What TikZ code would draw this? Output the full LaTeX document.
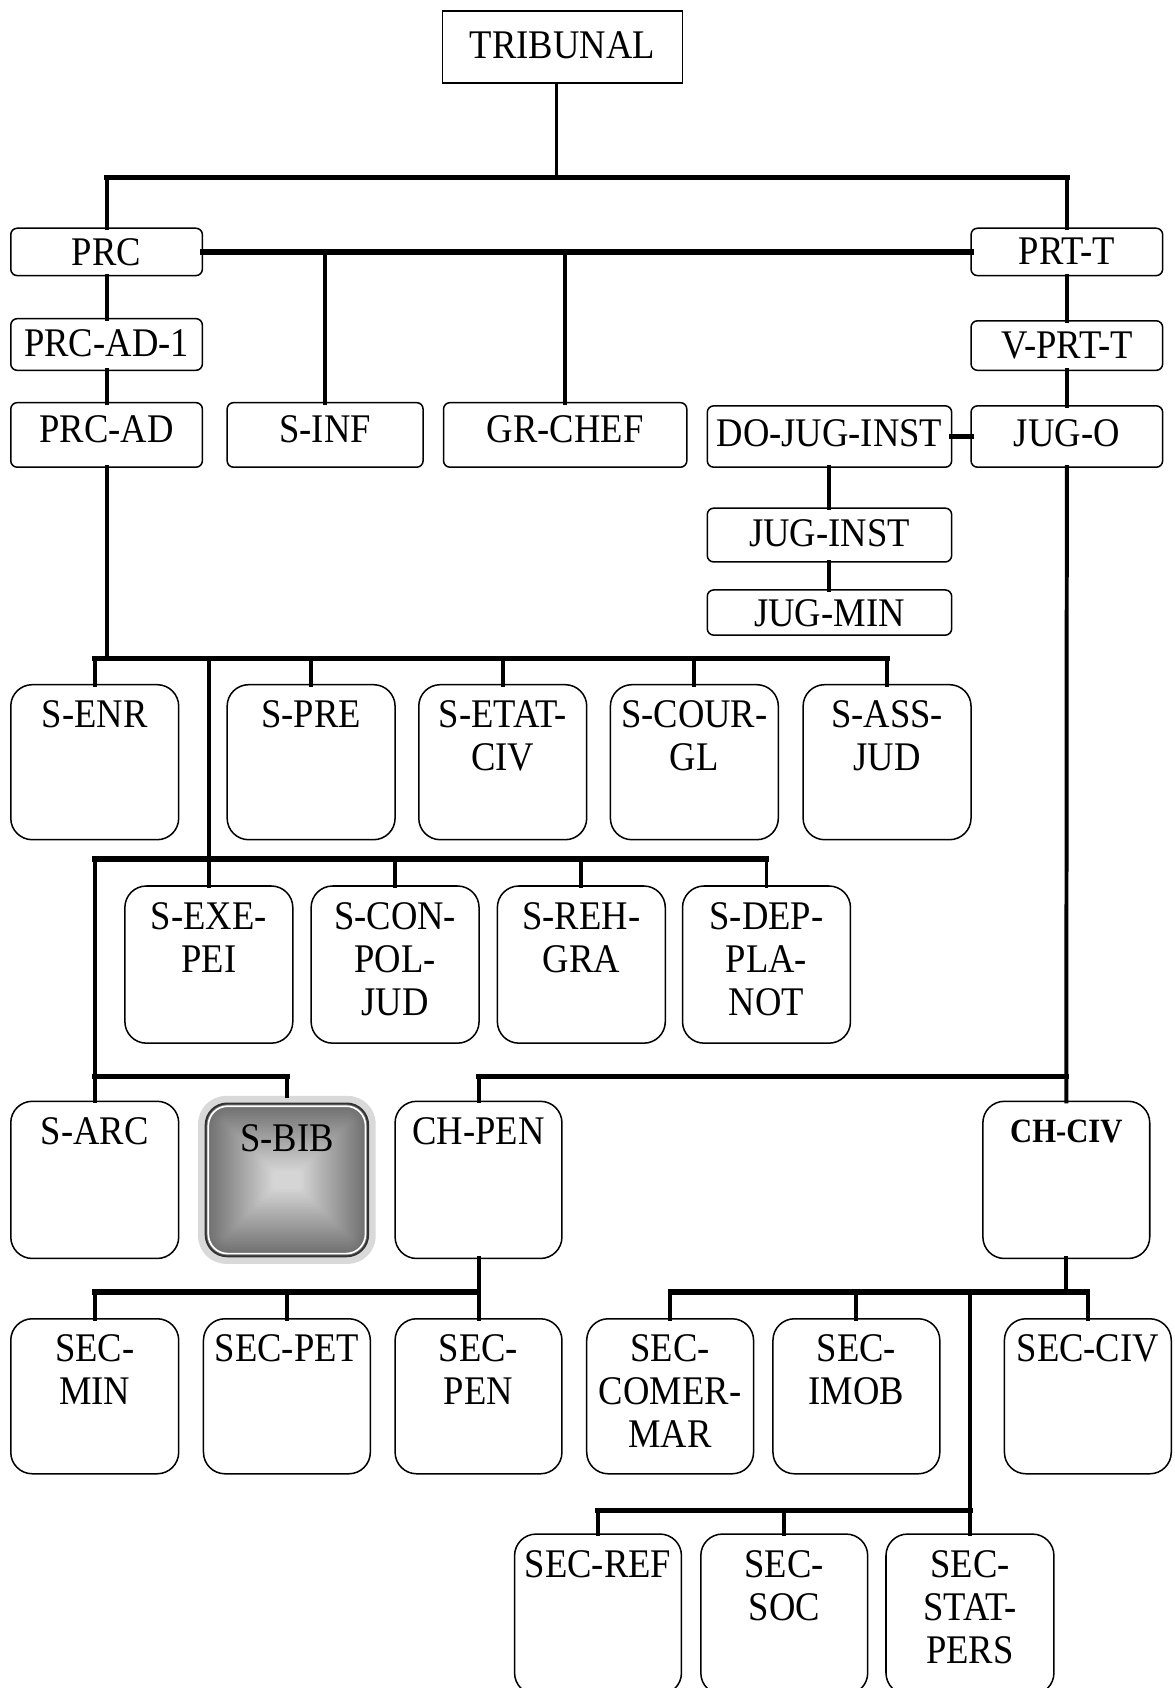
\documentclass[tikz,border=0pt]{standalone}
\usepackage{fontspec}
\setmainfont[FakeStretch=0.9]{Liberation Serif}
\tikzset{
  box/.style={draw, line width=0.8pt, rounded corners=0.12cm, inner sep=0pt, outer sep=0pt},
  tall/.style={box, rounded corners=0.4cm},
  sq/.style={draw, line width=0.9pt, inner sep=0pt, outer sep=0pt},
  bib/.style={tall, draw=black!80, line width=1pt},
  txt/.style={inner sep=0pt, align=center, font=\fontsize{21.5}{22.8}\selectfont},
  hl/.style={line width=2.8pt, line cap=rect},
  vl/.style={line width=2.1pt, line cap=rect},
  thinl/.style={line width=1.4pt},
}
\newcommand{\mkbox}[8]{\node[#1, minimum width={(#5-#3)*0.02cm}, minimum height={(#6-#4)*0.02cm}, label={[txt, anchor=north, yshift={-(#7)*0.02cm}]north:{#8}}] (#2) at ({(#3+#5)/2},{(#4+#6)/2}) {};}
\begin{document}
\begin{tikzpicture}[x=0.02cm, y=-0.02cm]
\useasboundingbox (0,0) rectangle (1091,1568);
\clip (0,0) rectangle (1091,1568);
% S-BIB glow and rectangular gradient
\fill[black!15, rounded corners=0.52cm] (184,1018) rectangle (349,1174);
\foreach \i in {0,...,27}{
  \pgfmathsetmacro{\d}{\i*2.3}
  \pgfmathsetmacro{\c}{57-\i*1.5}
  \pgfmathsetmacro{\r}{max(0.4-\d*0.02,0.06)}
  \fill[black!\c, rounded corners=\r cm] ({191+\d},{1025+\d}) rectangle ({342-\d},{1167-\d});
}
\draw[white, line width=0.9pt, rounded corners=0.36cm] (193.5,1027.5) rectangle (339.5,1164.5);
% boxes
\mkbox{sq}{TRIB}{411}{10}{634}{77}{19}{TRIBUNAL}
\mkbox{box}{PRC}{10}{212}{188}{256}{9}{PRC}
\mkbox{box}{PRTT}{902}{212}{1080}{256}{9}{PRT-T}
\mkbox{box}{PRCADI}{10}{296}{188}{344}{10}{PRC-AD-1}
\mkbox{box}{VPRTT}{902}{298}{1080}{344}{10}{V-PRT-T}
\mkbox{box}{PRCAD}{10}{374}{188}{434}{12}{PRC-AD}
\mkbox{box}{SINF}{211}{374}{393}{434}{12}{S-INF}
\mkbox{box}{GRCHEF}{412}{374}{638}{434}{12}{GR-CHEF}
\mkbox{box}{DOJUG}{657}{377}{884}{434}{12}{DO-JUG-INST}
\mkbox{box}{JUGO}{902}{377}{1080}{434}{12}{JUG-O}
\mkbox{box}{JUGINST}{657}{472}{884}{522}{10}{JUG-INST}
\mkbox{box}{JUGMIN}{657}{548}{884}{590}{9}{JUG-MIN}
% row 1
\mkbox{tall}{SENR}{10}{636}{166}{780}{14}{S-ENR}
\mkbox{tall}{SPRE}{211}{636}{367}{780}{14}{S-PRE}
\mkbox{tall}{SETAT}{389}{636}{545}{780}{14}{S-ETAT-\\CIV}
\mkbox{tall}{SCOUR}{567}{636}{723}{780}{14}{S-COUR-\\GL}
\mkbox{tall}{SASS}{746}{636}{902}{780}{14}{S-ASS-\\JUD}
% row 2
\mkbox{tall}{SEXE}{116}{823}{272}{969}{15}{S-EXE-\\PEI}
\mkbox{tall}{SCON}{289}{823}{445}{969}{15}{S-CON-\\POL-\\JUD}
\mkbox{tall}{SREH}{462}{823}{618}{969}{15}{S-REH-\\GRA}
\mkbox{tall}{SDEP}{634}{823}{790}{969}{15}{S-DEP-\\PLA-\\NOT}
% row 3
\mkbox{tall}{SARC}{10}{1023}{166}{1169}{15}{S-ARC}
\mkbox{bib}{SBIB}{191}{1025}{342}{1167}{19}{S-BIB}
\mkbox{tall}{CHPEN}{367}{1023}{522}{1169}{15}{CH-PEN}
\mkbox{tall}{CHCIV}{913}{1023}{1068}{1169}{17}{\fontsize{18}{20}\selectfont\bfseries CH-CIV}
% row 4
\mkbox{tall}{SECMIN}{10}{1225}{166}{1369}{14}{SEC-\\MIN}
\mkbox{tall}{SECPET}{189}{1225}{344}{1369}{14}{SEC-PET}
\mkbox{tall}{SECPEN}{367}{1225}{522}{1369}{14}{SEC-\\PEN}
\mkbox{tall}{SECCOM}{545}{1225}{700}{1369}{14}{SEC-\\COMER-\\MAR}
\mkbox{tall}{SECIMOB}{718}{1225}{873}{1369}{14}{SEC-\\IMOB}
\mkbox{tall}{SECCIV}{933}{1225}{1088}{1369}{14}{SEC-CIV}
% row 5
\mkbox{tall}{SECREF}{478}{1425}{633}{1574}{15}{SEC-REF}
\mkbox{tall}{SECSOC}{651}{1425}{806}{1574}{15}{SEC-\\SOC}
\mkbox{tall}{SECSTAT}{823}{1425}{979}{1574}{15}{SEC-\\STAT-\\PERS}
% connectors
\coordinate (t1) at (517,165);
\draw[thinl] (TRIB.south -| t1) -- (t1);
\draw[hl] (PRC.north |- t1) -- (PRTT.north |- t1);
\draw[vl] (PRC.north |- t1) -- (PRC.north);
\draw[vl] (PRTT.north |- t1) -- (PRTT.north);
\draw[hl] (PRC.east) -- (PRTT.west);
\draw[vl] (SINF.north |- PRC.east) -- (SINF.north);
\draw[vl] (GRCHEF.north |- PRC.east) -- (GRCHEF.north);
\draw[vl] (PRC.south) -- (PRCADI.north);
\draw[vl] (PRCADI.south) -- (PRCAD.north);
\draw[vl] (PRTT.south) -- (VPRTT.north);
\draw[vl] (VPRTT.south) -- (JUGO.north);
\draw[hl] (DOJUG.east) -- (JUGO.west);
\draw[vl] (DOJUG.south) -- (JUGINST.north);
\draw[vl] (JUGINST.south) -- (JUGMIN.north);
\coordinate (b2) at (0,612);
\draw[vl] (PRCAD.south) -- (PRCAD.south |- b2);
\draw[hl] (SENR.north |- b2) -- (SASS.north |- b2);
\foreach \n in {SENR,SPRE,SETAT,SCOUR,SASS} \draw[vl] (\n.north |- b2) -- (\n.north);
\coordinate (b3) at (0,798);
\draw[vl] (SEXE.north |- b2) -- (SEXE.north);
\draw[hl] (SARC.north |- b3) -- (SDEP.north |- b3);
\foreach \n in {SCON,SREH,SDEP} \draw[vl] (\n.north |- b3) -- (\n.north);
\draw[vl] (SARC.north |- b3) -- (SARC.north);
\coordinate (b4) at (0,1000);
\draw[hl] (SARC.north |- b4) -- (SBIB.north |- b4);
\draw[vl, shorten >=0.14cm] (SBIB.north |- b4) -- (SBIB.north);
\draw[vl] (JUGO.south) -- (CHCIV.north);
\draw[hl] (CHPEN.north |- b4) -- (CHCIV.north |- b4);
\draw[vl] (CHPEN.north |- b4) -- (CHPEN.north);
\coordinate (b5) at (0,1200);
\draw[vl] (CHPEN.south) -- (CHPEN.south |- b5);
\draw[hl] (SECMIN.north |- b5) -- (SECPEN.north |- b5);
\foreach \n in {SECMIN,SECPET,SECPEN} \draw[vl] (\n.north |- b5) -- (\n.north);
\draw[vl] (CHCIV.south) -- (CHCIV.south |- b5);
\draw[hl] (SECCOM.north |- b5) -- (SECCIV.north |- b5);
\foreach \n in {SECCOM,SECIMOB,SECCIV} \draw[vl] (\n.north |- b5) -- (\n.north);
\draw[vl] (SECSTAT.north |- b5) -- (SECSTAT.north);
\coordinate (b6) at (0,1403);
\draw[hl] (SECREF.north |- b6) -- (SECSTAT.north |- b6);
\foreach \n in {SECREF,SECSOC} \draw[vl] (\n.north |- b6) -- (\n.north);
\end{tikzpicture}
\end{document}
